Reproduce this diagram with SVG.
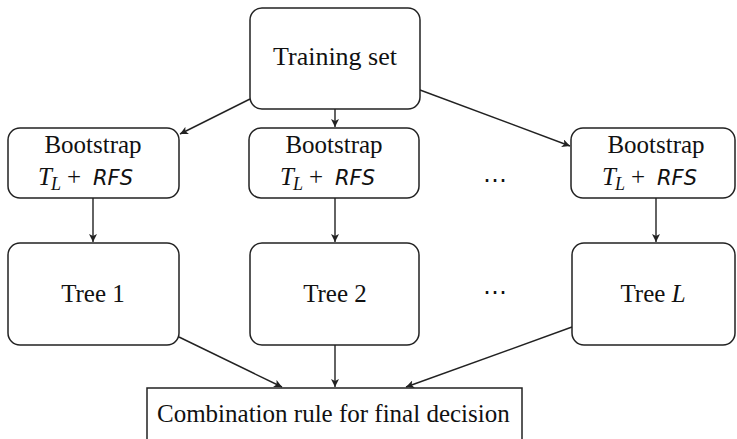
<svg xmlns="http://www.w3.org/2000/svg" width="737" height="439" viewBox="0 0 737 439">
<style>
.box{fill:#fff;stroke:#222;stroke-width:1.5}
.t{font-family:"Liberation Serif","Times New Roman",serif;font-size:25px;fill:#111}
.big{font-size:26px}
.it{font-style:italic}
.sf{font-family:"DejaVu Sans","Liberation Sans",sans-serif;font-style:italic;font-size:21px}
.c{text-anchor:middle}
.dots{font-family:"DejaVu Sans",sans-serif;font-size:24px;fill:#111;text-anchor:middle}
.e{stroke:#222;stroke-width:1.4;fill:none;marker-end:url(#ah)}
</style>
<defs>
<marker id="ah" viewBox="0 0 10 10" refX="10" refY="5" markerWidth="8" markerHeight="8" markerUnits="userSpaceOnUse" orient="auto">
<path d="M0,0 L10,5 L0,10 L2.5,5 z" fill="#222"/>
</marker>
</defs>
<rect width="737" height="439" fill="#fff"/>
<g id="connectors">
<line class="e" x1="335" y1="109" x2="335" y2="127"/>
<line class="e" x1="250" y1="99" x2="180" y2="134"/>
<line class="e" x1="420" y1="90" x2="570" y2="146"/>
<line class="e" x1="93" y1="198" x2="93" y2="242"/>
<line class="e" x1="335" y1="198" x2="335" y2="242"/>
<line class="e" x1="656" y1="198" x2="656" y2="242"/>
<line class="e" x1="179" y1="337" x2="282" y2="387"/>
<line class="e" x1="335" y1="345" x2="335" y2="387"/>
<line class="e" x1="572" y1="327" x2="406" y2="387"/>
</g>
<g id="training">
<rect class="box" x="250" y="8" width="170" height="101" rx="12"/>
<text class="t big c" x="335" y="65">Training set</text>
</g>
<g id="boot1">
<rect class="box" x="8" y="128" width="171" height="70" rx="12"/>
<text class="t c" x="93" y="153">Bootstrap</text>
<text class="t"><tspan class="it" x="38" y="185">T</tspan><tspan class="it" x="51" y="190" font-size="18">L</tspan><tspan x="67" y="185">+</tspan><tspan class="sf" x="93" y="185">RFS</tspan></text>
</g>
<g id="boot2">
<rect class="box" x="249" y="128" width="170" height="70" rx="12"/>
<text class="t c" x="334" y="153">Bootstrap</text>
<text class="t"><tspan class="it" x="280" y="185">T</tspan><tspan class="it" x="293" y="190" font-size="18">L</tspan><tspan x="309" y="185">+</tspan><tspan class="sf" x="335" y="185">RFS</tspan></text>
</g>
<g id="dots1"><text class="dots" x="495" y="188">⋯</text></g>
<g id="boot3">
<rect class="box" x="571" y="128" width="164" height="70" rx="12"/>
<text class="t c" x="656" y="153">Bootstrap</text>
<text class="t"><tspan class="it" x="602" y="185">T</tspan><tspan class="it" x="615" y="190" font-size="18">L</tspan><tspan x="631" y="185">+</tspan><tspan class="sf" x="657" y="185">RFS</tspan></text>
</g>
<g id="tree1">
<rect class="box" x="8" y="243" width="171" height="102" rx="12"/>
<text class="t c" x="93" y="302">Tree 1</text>
</g>
<g id="tree2">
<rect class="box" x="250" y="243" width="169" height="102" rx="12"/>
<text class="t c" x="335" y="302">Tree 2</text>
</g>
<g id="dots2"><text class="dots" x="495" y="300">⋯</text></g>
<g id="treeL">
<rect class="box" x="572" y="243" width="163" height="102" rx="12"/>
<text class="t c" x="653" y="302">Tree <tspan class="it">L</tspan></text>
</g>
<g id="combine">
<rect class="box" x="147" y="388" width="375" height="60"/>
<text class="t" x="157" y="422">Combination rule for final decision</text>
</g>
</svg>
